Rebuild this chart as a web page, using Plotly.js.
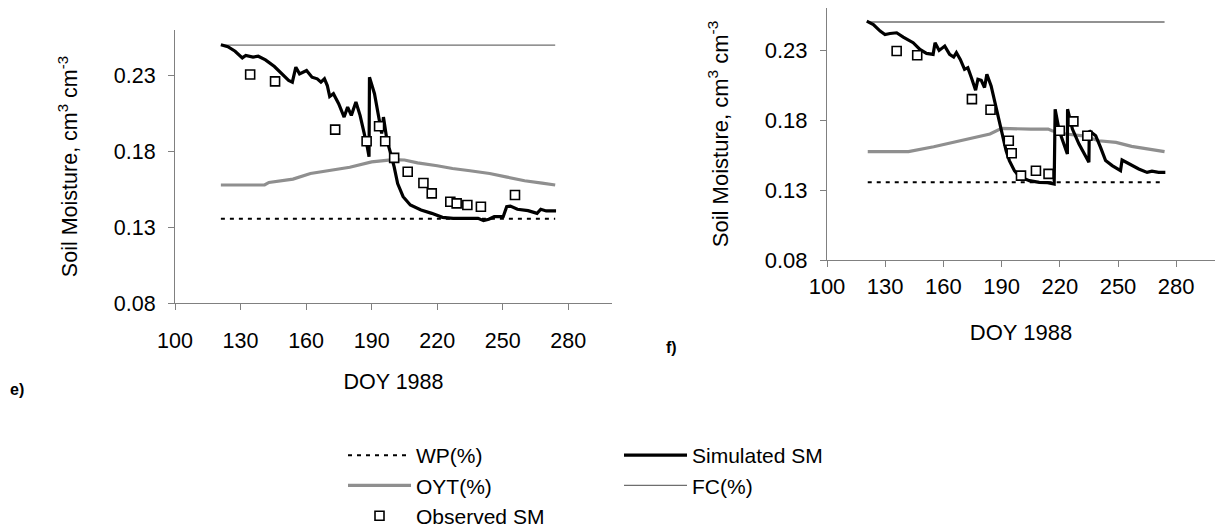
<!DOCTYPE html>
<html>
<head>
<meta charset="utf-8">
<script src="https://cdn.plot.ly/plotly-3.0.1.min.js"></script>
<style>html,body{margin:0;padding:0;background:#fff;}#chart{width:1216px;height:530px;}</style>
</head>
<body>
<div id="chart"></div>
<script>
// ---------- panel e) ----------
const eLineDoy = [121, 274];
const eFC = [0.25, 0.25];
const eWP = [0.1355, 0.1355];
const eOytDoy = [121, 141, 143, 149, 154, 162, 172, 180, 190, 196, 200, 205, 211, 220, 227, 235, 244, 252, 260, 268, 274];
const eOyt = [0.1578, 0.1578, 0.1595, 0.1606, 0.1617, 0.1654, 0.1676, 0.1695, 0.173, 0.1742, 0.1745, 0.1743, 0.1724, 0.1705, 0.1687, 0.1672, 0.1654, 0.163, 0.1606, 0.159, 0.1578];
const eSimDoy = [121, 124.2, 127.5, 130.8, 132.4, 135.7, 138.1, 141.4, 145.5, 148.8, 152, 153.7, 155.3, 157, 160.2, 162.7, 165.1, 166.8, 168.4, 169.7, 170.8, 172.5, 174.9, 177.4, 179, 180.7, 182.8, 184.7, 186.4, 188, 188.8, 189.0, 191.3, 193.7, 194.6, 195.4, 197, 198.7, 200.3, 201.9, 204.4, 207.7, 212.6, 217.5, 222.4, 227.3, 238.7, 241.2, 243.6, 246.1, 250.2, 251.8, 253.5, 256.7, 261.6, 265.7, 267.4, 269.9, 274.4];
const eSim = [0.2503, 0.249, 0.246, 0.2416, 0.2432, 0.2421, 0.2427, 0.2403, 0.2359, 0.2311, 0.2267, 0.2256, 0.2355, 0.2311, 0.2333, 0.2289, 0.2278, 0.2256, 0.2278, 0.2234, 0.2162, 0.218, 0.2114, 0.2026, 0.2092, 0.2037, 0.2125, 0.2037, 0.1939, 0.1829, 0.1764, 0.2289, 0.218, 0.2005, 0.1917, 0.2026, 0.1873, 0.1786, 0.1698, 0.1588, 0.1501, 0.1446, 0.1413, 0.1391, 0.1365, 0.1358, 0.1358, 0.1343, 0.1352, 0.1369, 0.1369, 0.1435, 0.1439, 0.1418, 0.1409, 0.1391, 0.1418, 0.1407, 0.1407];
const eObsDoy = [134.4, 145.8, 173.3, 187.7, 193.4, 196.2, 200.3, 206.5, 213.7, 217.5, 226, 228.9, 233.8, 240, 255.6];
const eObs = [0.2307, 0.2261, 0.1943, 0.1866, 0.1965, 0.1866, 0.1757, 0.1665, 0.1591, 0.1523, 0.1468, 0.1457, 0.1446, 0.1435, 0.1512];

// ---------- panel f) ----------
const fLineDoy = [121, 274];
const fFC = [0.25, 0.25];
const fWP = [0.1355, 0.1355];
const fOytDoy = [121, 142, 155, 172, 184, 190, 197, 205, 214, 216, 223, 232, 240, 249, 257, 266, 274];
const fOyt = [0.1574, 0.1574, 0.1609, 0.1664, 0.170, 0.174, 0.1735, 0.1735, 0.1735, 0.1723, 0.170, 0.1687, 0.1652, 0.164, 0.1612, 0.1593, 0.1574];
const fSimDoy = [120.5, 123.9, 127.4, 129.9, 132.5, 135.9, 139.3, 144.4, 147.9, 151.3, 154.7, 155.7, 157.8, 160.7, 163.2, 165.3, 166.7, 168.7, 170.9, 172.6, 174.4, 176.6, 177.8, 179.5, 181.2, 182.4, 184.6, 186.3, 188.9, 190.6, 192.3, 194, 196.6, 199.1, 204.3, 209.4, 213.7, 217.1, 217.6, 219.7, 222.2, 223.9, 224.0, 226.5, 229.9, 233.3, 235, 235.2, 238.5, 241, 243.6, 247, 251.3, 252.1, 255.6, 260.7, 265, 267.5, 270.9, 274.4];
const fSim = [0.2506, 0.2482, 0.2435, 0.2411, 0.2418, 0.2423, 0.2392, 0.2352, 0.2304, 0.2276, 0.2269, 0.2352, 0.2297, 0.2328, 0.2269, 0.225, 0.2281, 0.2233, 0.2162, 0.2174, 0.2103, 0.2013, 0.2091, 0.2084, 0.2032, 0.2127, 0.2043, 0.1937, 0.1794, 0.1676, 0.1581, 0.151, 0.1438, 0.1396, 0.1367, 0.1355, 0.1353, 0.1343, 0.1877, 0.1723, 0.1628, 0.1557, 0.1877, 0.1735, 0.1628, 0.1533, 0.1498, 0.1723, 0.1688, 0.1604, 0.151, 0.1474, 0.1438, 0.1514, 0.1486, 0.145, 0.1426, 0.1434, 0.1426, 0.1426];
const fObsDoy = [135.9, 146.5, 174.7, 184.3, 193.7, 195.2, 200, 207.7, 214.2, 220, 227, 234.2];
const fObs = [0.2293, 0.2262, 0.1949, 0.1873, 0.1652, 0.1562, 0.1403, 0.1438, 0.1415, 0.1723, 0.179, 0.1688];

const names = {wp: 'WP(%)', oyt: 'OYT(%)', obs: 'Observed SM', sim: 'Simulated SM', fc: 'FC(%)'};
const xTitle = 'DOY 1988';
const yTitle = 'Soil Moisture, cm<sup>3</sup> cm<sup>-3</sup>';
const panelLabels = ['e)', 'f)'];

const FONT = 'Liberation Sans, Arial, sans-serif';
const W = 1216, H = 530;
const px = v => v / W;
const py = v => 1 - v / H;

function panelTraces(sfx, lineDoy, fc, wp, oytDoy, oyt, simDoy, sim, obsDoy, obs, show) {
  const xa = 'x' + sfx, ya = 'y' + sfx;
  return [
    {x: lineDoy, y: fc, name: names.fc, mode: 'lines', line: {color: '#6e6e6e', width: 1.3}, xaxis: xa, yaxis: ya, showlegend: show, legend: 'legend2', legendrank: 2},
    {x: lineDoy, y: wp, name: names.wp, mode: 'lines', line: {color: '#000', width: 2, dash: '4px,5px'}, xaxis: xa, yaxis: ya, showlegend: show, legend: 'legend', legendrank: 1},
    {x: oytDoy, y: oyt, name: names.oyt, mode: 'lines', line: {color: '#8f8f8f', width: 3.2}, xaxis: xa, yaxis: ya, showlegend: show, legend: 'legend', legendrank: 2},
    {x: simDoy, y: sim, name: names.sim, mode: 'lines', line: {color: '#000', width: 3.2}, xaxis: xa, yaxis: ya, showlegend: show, legend: 'legend2', legendrank: 1},
    {x: obsDoy, y: obs, name: names.obs, mode: 'markers', marker: {symbol: 'square', size: 9, color: '#fff', line: {color: '#000', width: 1.6}}, xaxis: xa, yaxis: ya, showlegend: show, legend: 'legend', legendrank: 3}
  ];
}

const data = [].concat(
  panelTraces('', eLineDoy, eFC, eWP, eOytDoy, eOyt, eSimDoy, eSim, eObsDoy, eObs, true),
  panelTraces('2', fLineDoy, fFC, fWP, fOytDoy, fOyt, fSimDoy, fSim, fObsDoy, fObs, false)
);

function xAxis(domain, size, standoff, tstand) {
  return {domain: domain, range: [100, 300], tick0: 100, dtick: 30, showgrid: false, zeroline: false,
    showline: true, linecolor: '#808080', linewidth: 1, ticks: 'outside', ticklen: 6, tickcolor: '#808080',
    tickfont: {family: FONT, size: size, color: '#000'}, ticklabelstandoff: tstand, automargin: false,
    title: {text: xTitle, font: {family: FONT, size: size, color: '#000'}, standoff: standoff}, fixedrange: true};
}
function yAxis(domain, anchor, size, standoff, tstand) {
  return {domain: domain, anchor: anchor, range: [0.08, 0.26], tick0: 0.08, dtick: 0.05, tickformat: '.2f', showgrid: false, zeroline: false,
    showline: true, linecolor: '#808080', linewidth: 1, ticks: 'outside', ticklen: 6, tickcolor: '#808080',
    tickfont: {family: FONT, size: size, color: '#000'}, ticklabelstandoff: tstand, automargin: false,
    title: {text: yTitle, font: {family: FONT, size: size, color: '#000'}, standoff: standoff}, fixedrange: true};
}

const layout = {
  width: W, height: H, autosize: false,
  margin: {l: 0, r: 0, t: 0, b: 0, autoexpand: false},
  paper_bgcolor: '#fff', plot_bgcolor: 'rgba(0,0,0,0)',
  font: {family: FONT, size: 21, color: '#000'},
  xaxis: Object.assign(xAxis([px(175), px(612)], 21.5, 22, 12), {anchor: 'y'}),
  yaxis: yAxis([py(303), py(30)], 'x', 21.5, 30, 8),
  xaxis2: Object.assign(xAxis([px(827), px(1215)], 22, 26, 1), {anchor: 'y2'}),
  yaxis2: yAxis([py(260), py(8)], 'x2', 22, 30, 8),
  legend: {x: px(343), y: py(435), xanchor: 'left', yanchor: 'top', bgcolor: 'rgba(0,0,0,0)', borderwidth: 0,
    itemwidth: 63, font: {family: FONT, size: 21, color: '#000'}, traceorder: 'normal'},
  legend2: {x: px(619), y: py(435), xanchor: 'left', yanchor: 'top', bgcolor: 'rgba(0,0,0,0)', borderwidth: 0,
    itemwidth: 63, font: {family: FONT, size: 21, color: '#000'}, traceorder: 'normal'},
  annotations: [
    {text: '<b>' + panelLabels[0] + '</b>', xref: 'paper', yref: 'paper', x: px(17), y: py(389), xanchor: 'center', yanchor: 'middle', showarrow: false, font: {family: FONT, size: 16, color: '#000'}},
    {text: '<b>' + panelLabels[1] + '</b>', xref: 'paper', yref: 'paper', x: px(671), y: py(347), xanchor: 'center', yanchor: 'middle', showarrow: false, font: {family: FONT, size: 16, color: '#000'}}
  ]
};

Plotly.newPlot('chart', data, layout, {displayModeBar: false, staticPlot: true});
</script>
</body>
</html>
